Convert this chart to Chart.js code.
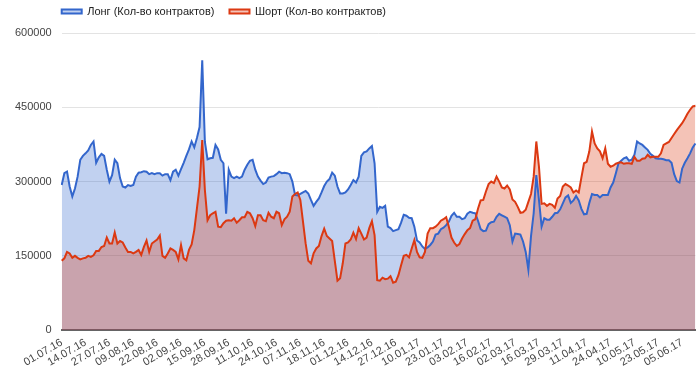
<!DOCTYPE html>
<html lang="ru">
<head>
    <meta charset="UTF-8">
    <title>Лонг / Шорт</title>
    <style>
        html, body { margin: 0; padding: 0; background: #fff; }
        #wrap { width: 700px; height: 369px; position: relative; }
    </style>
</head>
<body>
    <div id="wrap">
        <canvas id="area_chart"></canvas>
    </div>

    <script src="https://cdn.jsdelivr.net/npm/chart.js"></script>

    <script>
        // подписи оси X (каждая 9-я торговая сессия)
        var tick_dates = ['01.07.16','14.07.16','27.07.16','09.08.16','22.08.16','02.09.16','15.09.16',
            '28.09.16','11.10.16','24.10.16','07.11.16','18.11.16','01.12.16','14.12.16','27.12.16',
            '10.01.17','23.01.17','03.02.17','16.02.17','02.03.17','16.03.17','29.03.17','11.04.17',
            '24.04.17','10.05.17','23.05.17','05.06.17'];
        var days_per_tick = 9;

        var series_names = ['Лонг (Кол-во контрактов)', 'Шорт (Кол-во контрактов)'];

        var long_values = [
            293000,317000,320000,290000,270000,286000,310000,344000,352000,357000,
            363000,374000,381000,338000,349000,356000,352000,324000,300000,313000,
            344000,337000,307000,290000,288000,293000,291000,293000,310000,318000,
            319000,321000,320000,315000,317000,315000,317000,317000,312000,315000,
            315000,303000,320000,324000,312000,325000,338000,352000,365000,381000,
            369000,388000,410000,545000,380000,345000,347000,348000,374000,365000,
            344000,337000,235000,324000,310000,307000,310000,307000,310000,324000,
            334000,342000,344000,324000,310000,302000,295000,298000,308000,310000,
            311000,315000,320000,317000,318000,317000,315000,300000,273000,272000,
            275000,278000,281000,276000,263000,251000,259000,266000,278000,291000,
            300000,305000,318000,312000,290000,276000,276000,278000,284000,293000,
            303000,298000,310000,352000,359000,361000,367000,372000,337000,239000,
            249000,247000,251000,209000,206000,200000,202000,204000,217000,233000,
            231000,227000,226000,209000,181000,177000,169000,164000,167000,172000,
            179000,193000,195000,204000,207000,212000,219000,231000,237000,229000,
            229000,224000,226000,235000,239000,237000,236000,221000,204000,200000,
            201000,214000,218000,219000,229000,235000,232000,229000,226000,212000,
            179000,195000,194000,193000,179000,158000,122000,190000,236000,313000,
            263000,209000,226000,223000,223000,229000,236000,237000,244000,256000,
            268000,272000,257000,262000,271000,262000,245000,234000,235000,257000,
            275000,273000,273000,268000,273000,273000,273000,288000,298000,317000,
            337000,342000,347000,349000,342000,344000,354000,381000,377000,374000,
            369000,364000,356000,352000,347000,346000,346000,345000,343000,343000,
            338000,315000,301000,298000,326000,338000,347000,357000,369000,377000
        ];

        var short_values = [
            140000,145000,158000,155000,146000,150000,146000,143000,145000,146000,
            150000,148000,151000,160000,160000,168000,170000,187000,175000,175000,
            197000,175000,180000,177000,167000,158000,158000,155000,158000,162000,
            152000,168000,181000,158000,175000,179000,183000,191000,150000,146000,
            155000,165000,162000,158000,143000,172000,145000,141000,162000,173000,
            202000,246000,290000,384000,283000,222000,232000,236000,239000,209000,
            208000,216000,221000,222000,221000,226000,217000,222000,228000,228000,
            239000,236000,226000,210000,232000,232000,222000,220000,237000,229000,
            226000,239000,236000,212000,224000,229000,239000,270000,275000,278000,
            263000,219000,175000,140000,135000,155000,165000,170000,190000,205000,
            190000,185000,180000,140000,100000,105000,135000,175000,177000,183000,
            197000,184000,206000,195000,183000,187000,206000,220000,192000,101000,
            100000,106000,103000,104000,109000,96000,98000,111000,131000,150000,
            152000,147000,165000,182000,158000,147000,146000,158000,195000,206000,
            206000,209000,214000,221000,224000,228000,209000,187000,177000,170000,
            174000,185000,194000,202000,206000,221000,224000,245000,262000,263000,
            280000,295000,300000,297000,310000,300000,288000,286000,292000,284000,
            264000,259000,249000,237000,238000,243000,259000,275000,310000,381000,
            330000,255000,256000,251000,255000,253000,247000,266000,271000,290000,
            295000,292000,288000,278000,282000,278000,308000,337000,340000,361000,
            401000,377000,367000,361000,347000,367000,336000,330000,332000,336000,
            338000,339000,336000,337000,337000,336000,350000,342000,342000,346000,
            347000,354000,349000,350000,350000,350000,357000,374000,377000,380000,
            388000,396000,404000,411000,418000,427000,437000,445000,452000,453000
        ];

        var y_ticks = [0, 150000, 300000, 450000, 600000];

        // категории: дата под каждой 9-й точкой, остальные пустые
        var labels_for_chart = [];
        for (var i = 0; i < long_values.length; i++) {
            labels_for_chart.push(i % days_per_tick === 0 && tick_dates[i / days_per_tick] ? tick_dates[i / days_per_tick] : '');
        }

        var font_family = "'Liberation Sans', Arial, sans-serif";
        var legend_pad = 15;

        // сдвигаем легенду к левому краю области графика и чуть вверх
        var legend_shift = {
            id: 'legend_shift',
            afterLayout: function (chart) {
                var lg = chart.legend;
                var dx = chart.chartArea.left - legend_pad - lg.left;
                lg.left += dx;
                lg.right += dx;
                lg.top -= 6;
                lg.bottom -= 6;
            }
        };

        new Chart(document.getElementById('area_chart'), {
            type: 'line',
            data: {
                labels: labels_for_chart,
                datasets: [{
                    label: series_names[0],
                    data: long_values,
                    borderColor: '#3366cc',
                    backgroundColor: 'rgba(51,102,204,0.3)',
                    borderWidth: 2,
                    fill: 'origin',
                    pointRadius: 0,
                    tension: 0,
                    order: 1
                }, {
                    label: series_names[1],
                    data: short_values,
                    borderColor: '#dc3912',
                    backgroundColor: 'rgba(220,57,18,0.3)',
                    borderWidth: 2,
                    fill: 'origin',
                    pointRadius: 0,
                    tension: 0,
                    order: 0
                }]
            },
            options: {
                responsive: true,
                maintainAspectRatio: false,
                animation: false,
                layout: { padding: { top: -3, left: 5, right: 3, bottom: 2 } },
                plugins: {
                    filler: { drawTime: 'beforeDatasetsDraw' },
                    tooltip: { enabled: false },
                    legend: {
                        position: 'top',
                        align: 'start',
                        labels: {
                            boxWidth: 20,
                            boxHeight: 4,
                            padding: legend_pad,
                            color: '#222',
                            font: { family: font_family, size: 11 },
                            sort: function (a, b) { return a.datasetIndex - b.datasetIndex; }
                        }
                    }
                },
                scales: {
                    x: {
                        grid: { display: false },
                        border: { display: true, color: '#666', width: 2 },
                        ticks: {
                            autoSkip: false,
                            minRotation: 30,
                            maxRotation: 30,
                            padding: -2,
                            color: '#444',
                            font: { family: font_family, size: 11 }
                        }
                    },
                    y: {
                        min: 0,
                        max: 600000,
                        afterBuildTicks: function (axis) {
                            axis.ticks = y_ticks.map(function (v) { return { value: v }; });
                        },
                        grid: { color: '#e3e3e3', drawTicks: false },
                        border: { display: false },
                        ticks: {
                            padding: 10,
                            color: '#444',
                            font: { family: font_family, size: 11 },
                            callback: function (value) { return String(value); }
                        }
                    }
                }
            },
            plugins: [legend_shift]
        });
    </script>
</body>
</html>
